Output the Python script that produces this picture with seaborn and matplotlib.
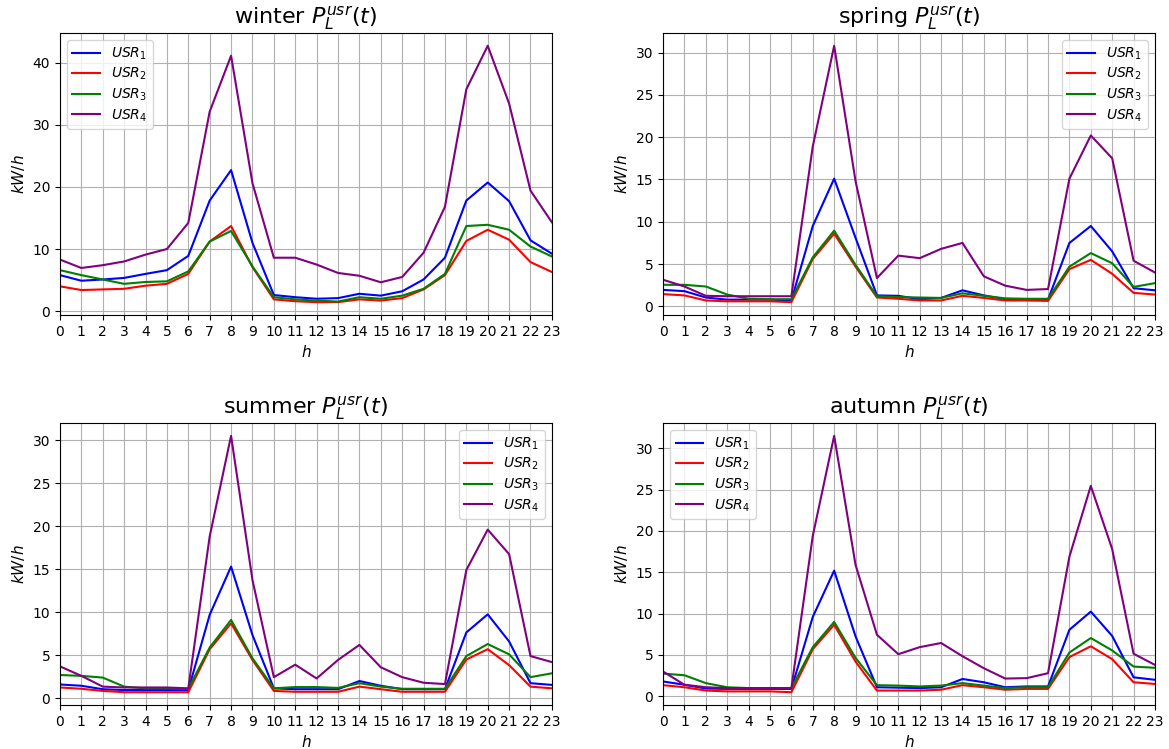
import numpy as np
import pandas as pd
import seaborn as sns
import matplotlib
matplotlib.use("Agg")
import matplotlib.pyplot as plt

hours = list(range(24))
seasons = ["winter", "spring", "summer", "autumn"]
users = ["$USR_1$", "$USR_2$", "$USR_3$", "$USR_4$"]
colors = ["blue", "red", "green", "purple"]
legend_loc = {"winter": "upper left", "spring": "upper right",
              "summer": "upper right", "autumn": "upper left"}

winter_usr1 = [5.8, 4.9, 5.1, 5.35, 6.0, 6.6, 8.9, 17.8, 22.7, 11.0, 2.6, 2.25,
               2.0, 2.1, 2.8, 2.5, 3.2, 5.1, 8.6, 17.8, 20.7, 17.7, 11.4, 9.25]
winter_usr2 = [4.0, 3.4, 3.5, 3.6, 4.1, 4.4, 6.0, 11.2, 13.7, 7.1, 1.9, 1.6,
               1.45, 1.45, 1.9, 1.7, 2.1, 3.5, 5.8, 11.3, 13.1, 11.5, 7.9, 6.3]
winter_usr3 = [6.6, 5.8, 5.1, 4.4, 4.7, 4.8, 6.4, 11.2, 12.9, 7.2, 2.25, 1.9,
               1.7, 1.55, 2.25, 2.0, 2.5, 3.6, 6.0, 13.7, 13.9, 13.1, 10.4, 8.8]
winter_usr4 = [8.3, 6.95, 7.4, 8.0, 9.1, 10.0, 14.2, 32.1, 41.1, 20.6, 8.6, 8.6,
               7.5, 6.15, 5.7, 4.65, 5.5, 9.4, 16.8, 35.7, 42.7, 33.4, 19.4, 14.3]

spring_usr1 = [1.95, 1.8, 1.05, 0.8, 0.8, 0.8, 0.7, 9.5, 15.1, 8.1, 1.3, 1.25,
               0.85, 1.0, 1.9, 1.3, 0.85, 0.8, 0.8, 7.5, 9.5, 6.5, 2.15, 1.9]
spring_usr2 = [1.45, 1.3, 0.7, 0.6, 0.6, 0.6, 0.5, 5.6, 8.6, 4.7, 1.05, 0.9,
               0.7, 0.7, 1.25, 1.0, 0.7, 0.7, 0.65, 4.4, 5.5, 3.85, 1.6, 1.4]
spring_usr3 = [2.55, 2.55, 2.35, 1.4, 0.9, 0.85, 0.85, 5.8, 8.95, 4.9, 1.2, 1.1,
               1.05, 1.0, 1.55, 1.25, 0.95, 0.9, 0.9, 4.7, 6.3, 5.1, 2.3, 2.75]
spring_usr4 = [3.15, 2.35, 1.25, 1.2, 1.2, 1.2, 1.2, 18.9, 30.8, 14.8, 3.35, 6.0,
               5.7, 6.8, 7.5, 3.55, 2.45, 1.95, 2.05, 15.1, 20.2, 17.5, 5.4, 4.0]

summer_usr1 = [1.6, 1.45, 1.05, 0.95, 0.95, 0.95, 0.95, 9.7, 15.3, 7.35, 1.15, 1.05,
               1.05, 1.05, 2.0, 1.45, 1.05, 1.05, 1.05, 7.65, 9.75, 6.6, 1.75, 1.55]
summer_usr2 = [1.25, 1.1, 0.85, 0.7, 0.7, 0.7, 0.7, 5.7, 8.7, 4.45, 0.85, 0.75,
               0.75, 0.75, 1.35, 1.05, 0.75, 0.75, 0.75, 4.5, 5.7, 3.85, 1.35, 1.15]
summer_usr3 = [2.7, 2.6, 2.4, 1.35, 1.15, 1.15, 1.1, 5.9, 9.1, 4.65, 1.15, 1.3,
               1.3, 1.2, 1.75, 1.35, 1.1, 1.1, 1.1, 4.9, 6.3, 5.1, 2.45, 2.9]
summer_usr4 = [3.7, 2.6, 1.35, 1.25, 1.25, 1.25, 1.15, 18.8, 30.5, 13.75, 2.45, 3.9,
               2.3, 4.45, 6.2, 3.6, 2.45, 1.8, 1.65, 14.9, 19.6, 16.75, 4.9, 4.2]

autumn_usr1 = [1.8, 1.4, 0.95, 0.9, 0.9, 0.9, 0.9, 9.6, 15.2, 7.25, 1.1, 1.05,
               1.0, 1.1, 2.1, 1.7, 1.1, 1.2, 1.2, 8.05, 10.25, 7.3, 2.3, 2.0]
autumn_usr2 = [1.35, 1.1, 0.7, 0.6, 0.6, 0.6, 0.5, 5.7, 8.65, 4.2, 0.7, 0.7,
               0.7, 0.8, 1.35, 1.1, 0.8, 0.9, 0.9, 4.75, 6.05, 4.5, 1.7, 1.5]
autumn_usr3 = [2.75, 2.55, 1.6, 1.1, 1.0, 1.0, 1.0, 5.95, 9.0, 4.65, 1.35, 1.3,
               1.2, 1.3, 1.6, 1.3, 1.0, 1.1, 1.1, 5.3, 7.05, 5.55, 3.6, 3.45]
autumn_usr4 = [3.0, 1.4, 1.1, 1.0, 1.0, 1.0, 1.0, 19.4, 31.5, 15.9, 7.45, 5.1,
               5.95, 6.45, 4.85, 3.4, 2.15, 2.2, 2.8, 16.9, 25.45, 17.8, 5.15, 3.8]

data = {
    "winter": [winter_usr1, winter_usr2, winter_usr3, winter_usr4],
    "spring": [spring_usr1, spring_usr2, spring_usr3, spring_usr4],
    "summer": [summer_usr1, summer_usr2, summer_usr3, summer_usr4],
    "autumn": [autumn_usr1, autumn_usr2, autumn_usr3, autumn_usr4],
}

fig, axes = plt.subplots(2, 2, figsize=(11.69, 7.49), dpi=100)
fig.subplots_adjust(left=0.0513, right=0.988, top=0.956, bottom=0.0587,
                    wspace=0.226, hspace=0.383)

for ax, season in zip(axes.flat, seasons):
    for series, label, color in zip(data[season], users, colors):
        sns.lineplot(x=hours, y=series, color=color, label=label, ax=ax, linewidth=1.5)
    ax.set_xlim(0, 23)
    ax.set_xticks(hours)
    ax.grid(True)
    ax.set_title(f"{season} $P_L^{{usr}}(t)$", fontsize=16)
    ax.set_xlabel("$h$", fontsize=11)
    ax.set_ylabel("$kW/h$", fontsize=11)
    ax.legend(loc=legend_loc[season], fontsize=10, labelspacing=0.3)

fig.savefig("out.png", dpi=100)
